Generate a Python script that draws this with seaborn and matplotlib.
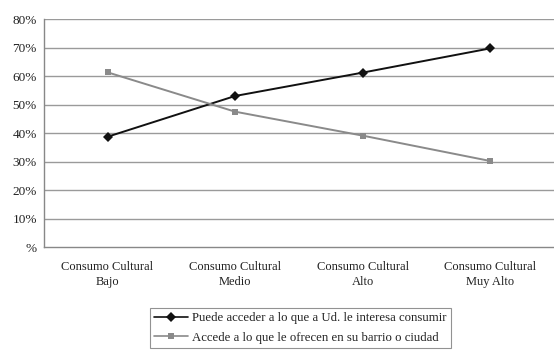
import matplotlib
matplotlib.use("Agg")
import matplotlib.pyplot as plt
import numpy as np
import pandas as pd
import seaborn as sns

categories = ["Consumo Cultural\nBajo", "Consumo Cultural\nMedio",
              "Consumo Cultural\nAlto", "Consumo Cultural\nMuy Alto"]
series_names = ["Puede acceder a lo que a Ud. le interesa consumir",
                "Accede a lo que le ofrecen en su barrio o ciudad"]
puede = [38.7, 53.0, 61.2, 69.7]
accede = [61.3, 47.5, 39.1, 30.2]
y_ticks = [0, 10, 20, 30, 40, 50, 60, 70, 80]
y_labels = ["%", "10%", "20%", "30%", "40%", "50%", "60%", "70%", "80%"]

df = pd.DataFrame({
    "pos": list(range(len(categories))) * 2,
    "value": puede + accede,
    "serie": [series_names[0]] * 4 + [series_names[1]] * 4,
})

sns.set_style("white")
plt.rcParams["font.family"] = ["Liberation Serif", "DejaVu Serif"]
plt.rcParams["text.color"] = "#222222"

fig = plt.figure(figsize=(5.54, 3.52), dpi=100)
ax = fig.add_axes([0.079, 0.298, 0.921, 0.648])

sns.lineplot(data=df, x="pos", y="value", hue="serie", style="serie",
             palette=["#111111", "#8a8a8a"], markers=["D", "s"], dashes=False,
             markersize=5, markeredgewidth=0, linewidth=1.4, ax=ax, legend=False)

ax.set_xlim(-0.5, 3.5)
ax.set_ylim(0, 80)
ax.set_yticks(y_ticks)
ax.set_yticklabels(y_labels, fontsize=9.5, color="#222222")
ax.set_xticks(range(len(categories)))
ax.set_xticklabels(categories, fontsize=9, color="#222222", linespacing=1.35)
ax.set_xticks([0.5, 1.5, 2.5], minor=True)
ax.tick_params(axis="x", which="major", length=0, pad=10)
ax.tick_params(axis="x", which="minor", length=3, color="#888888", direction="out")
ax.tick_params(axis="y", length=3, color="#888888", direction="out", pad=2)
for y in y_ticks[1:]:
    ax.axhline(y, color="#9a9a9a", linewidth=1.0, zorder=0)
ax.set_xlabel("")
ax.set_ylabel("")
for s in ["top", "right"]:
    ax.spines[s].set_visible(False)
for s in ["left", "bottom"]:
    ax.spines[s].set_color("#888888")
    ax.spines[s].set_linewidth(1.0)

handles = [
    plt.Line2D([], [], color="#111111", marker="D", markersize=5, markeredgewidth=0, linewidth=1.2),
    plt.Line2D([], [], color="#8a8a8a", marker="s", markersize=5, markeredgewidth=0, linewidth=1.2),
]
leg = fig.legend(handles, series_names, loc="upper left",
                 bbox_to_anchor=(150 / 554, 1 - 308 / 352),
                 bbox_transform=fig.transFigure,
                 frameon=True, fancybox=False, fontsize=9.2, handlelength=2.6,
                 handletextpad=0.3, borderpad=0.35, borderaxespad=0,
                 labelspacing=0.55)
leg.get_frame().set_edgecolor("#777777")
leg.get_frame().set_linewidth(0.8)

fig.savefig("out.png", dpi=100)
